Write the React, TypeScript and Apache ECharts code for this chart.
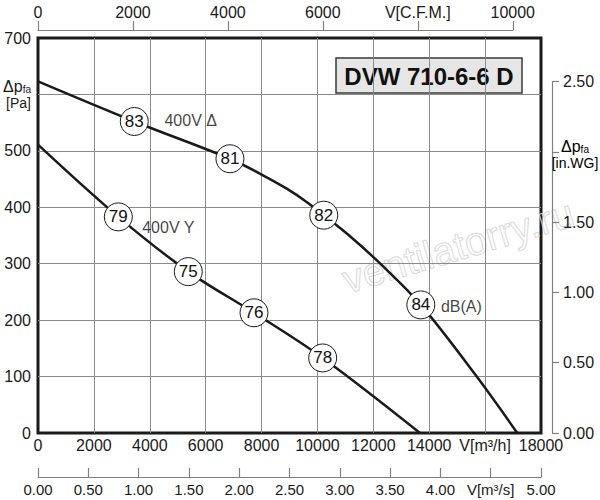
import React, { useEffect, useRef } from "react";
import * as echarts from "echarts";

// ---- data ----
const FLOW_MAX = 18000; // m3/h
const PRESSURE_MAX = 700; // Pa
const M3H_PER_CFM = 1.69901;
const PA_PER_INWG = 249.089;
const M3H_PER_M3S = 3600;

// 400V Δ curve [m3/h, Pa]
const deltaCurve: [number, number][] = [
  [0, 623], [3446, 552], [6869, 486], [8000, 458], [8900, 433], [9600, 410],
  [10226, 386], [11155, 349], [12250, 300], [13700, 227], [15700, 100], [17150, 0],
];
// 400V Y curve [m3/h, Pa]
const starCurve: [number, number][] = [
  [0, 511], [2874, 383], [5378, 286],
  [7730, 213], [10188, 133], [13670, 0],
];
// sound level markers [m3/h, Pa, dB(A)]
const deltaMarks: [number, number, number][] = [
  [3446, 552, 83], [6869, 486, 81], [10226, 386, 82], [13700, 227, 84],
];
const starMarks: [number, number, number][] = [
  [2874, 383, 79], [5378, 286, 75], [7730, 213, 76], [10188, 133, 78],
];
// text annotations [m3/h, Pa, text]
const annotations: [number, number, string][] = [
  [5464, 553, "400V Δ"], [4663, 365, "400V Y"], [15150, 224, "dB(A)"],
];
const title = "DVW 710-6-6 D";
const watermark = "ventilatorry.ru";

// ---- layout ----
const FONT = "'Liberation Sans', Arial, Helvetica, sans-serif";
const INK = "#1a1a1a";
const GRID_GREY = "#8a8a8a";
const AXIS_GREY = "#808080";
const P = { left: 38, top: 38, width: 503, height: 395 };
const pxPerPa = P.height / PRESSURE_MAX;
const inwgMax = 2.5;
const inwgHeight = inwgMax * PA_PER_INWG * pxPerPa;
const cfmMax = 10000;
const cfmWidth = ((cfmMax * M3H_PER_CFM) / FLOW_MAX) * P.width;
const m3sMax = FLOW_MAX / M3H_PER_M3S;

const subRich = {
  a: { fontSize: 16, fontFamily: FONT, color: INK, verticalAlign: "bottom", lineHeight: 18 },
  s: { fontSize: 10, fontFamily: FONT, color: INK, verticalAlign: "bottom", lineHeight: 14 },
  b: { fontSize: 14, fontFamily: FONT, color: INK, lineHeight: 18 },
};

export default function App() {
  const ref = useRef<HTMLDivElement>(null);
  useEffect(() => {
    if (!ref.current) return;
    const chart = echarts.init(ref.current, undefined, { renderer: "svg" });
    const labelBase = { fontSize: 16, fontFamily: FONT, color: INK };
    const curveSeries = (data: [number, number][]) => ({
      type: "line", xAxisIndex: 0, yAxisIndex: 0, data, smooth: 0.35,
      showSymbol: false, symbol: "none", z: 3,
      lineStyle: { color: INK, width: 2.5 },
    });
    chart.setOption({
      animation: false,
      backgroundColor: "#ffffff",
      textStyle: { fontFamily: FONT },
      grid: [
        {
          left: P.left, top: P.top, width: P.width, height: P.height,
          show: true, borderColor: INK, borderWidth: 3, backgroundColor: "transparent",
        },
        { left: 551, width: 1, top: P.top + P.height - inwgHeight, height: inwgHeight },
        { left: P.left, width: cfmWidth, top: 30, height: 1 },
        { left: P.left, width: P.width, top: 476, height: 1 },
      ],
      xAxis: [
        {
          gridIndex: 0, type: "value", min: 0, max: FLOW_MAX, interval: 2000,
          axisLine: { show: false }, axisTick: { show: false },
          splitLine: { show: true, showMinLine: false, showMaxLine: false, lineStyle: { color: GRID_GREY, width: 1 } },
          axisLabel: {
            ...labelBase, margin: 4,
            formatter: (v: number) => (v === 16000 ? "V[m³/h]" : String(v)),
          },
        },
        { gridIndex: 1, type: "value", show: false, min: 0, max: 1 },
        {
          gridIndex: 2, type: "value", position: "top", min: 0, max: cfmMax, interval: 2000,
          axisLine: { show: true, onZero: false, lineStyle: { color: AXIS_GREY, width: 1.2 } },
          axisTick: { show: true, length: 9, lineStyle: { color: AXIS_GREY, width: 1.2 } },
          splitLine: { show: false },
          axisLabel: {
            ...labelBase, margin: 10,
            formatter: (v: number) => (v === 8000 ? "V[C.F.M.]" : String(v)),
          },
        },
        {
          gridIndex: 3, type: "value", position: "bottom", min: 0, max: m3sMax, interval: 0.5,
          axisLine: { show: true, onZero: false, lineStyle: { color: AXIS_GREY, width: 1.2 } },
          axisTick: { show: true, inside: true, length: 9, lineStyle: { color: AXIS_GREY, width: 1.2 } },
          splitLine: { show: false },
          axisLabel: {
            ...labelBase, fontSize: 15, margin: 5,
            formatter: (v: number) => (Math.abs(v - 4.5) < 1e-9 ? "V[m³/s]" : v.toFixed(2)),
          },
        },
      ],
      yAxis: [
        {
          gridIndex: 0, type: "value", min: 0, max: PRESSURE_MAX, interval: 100,
          axisLine: { show: false }, axisTick: { show: false },
          splitLine: { show: true, showMinLine: false, showMaxLine: false, lineStyle: { color: GRID_GREY, width: 1 } },
          axisLabel: {
            ...labelBase, margin: 7,
            formatter: (v: number) => (v === 600 ? "{a|Δp}{s|fa}\n{b|[Pa]}" : String(v)),
            rich: subRich,
          },
        },
        {
          gridIndex: 1, type: "value", position: "right", min: 0, max: inwgMax, interval: 0.5,
          axisLine: { show: true, onZero: false, lineStyle: { color: AXIS_GREY, width: 1.2 } },
          axisTick: { show: true, length: 7, lineStyle: { color: AXIS_GREY, width: 1.2 } },
          splitLine: { show: false },
          axisLabel: {
            ...labelBase, margin: 11,
            formatter: (v: number) => (Math.abs(v - 2) < 1e-9 ? "" : v.toFixed(2)),
          },
        },
        { gridIndex: 2, type: "value", show: false, min: 0, max: 1 },
        { gridIndex: 3, type: "value", show: false, min: 0, max: 1 },
      ],
      graphic: [
        {
          type: "text", x: 458, y: 246, rotation: 0.29, z: 0, silent: true,
          style: {
            text: watermark, font: `40px ${FONT}`, align: "center", verticalAlign: "middle",
            fill: "rgba(255,255,255,0)", stroke: "#d9d9d9", lineWidth: 1,
          },
        },
        {
          type: "group", x: 336, y: 58, z: 100,
          children: [
            {
              type: "rect", shape: { x: 0, y: 0, width: 186, height: 35 },
              style: { fill: "#e6e6e6", stroke: "#3a3a3a", lineWidth: 1.5 },
            },
            {
              type: "text", x: 93, y: 18.5,
              style: {
                text: title, font: `bold 24px ${FONT}`, fill: "#111",
                align: "center", verticalAlign: "middle",
              },
            },
          ],
        },
        {
          type: "text", x: 575, y: 154, z: 100,
          style: {
            text: "{a|Δp}{s|fa}\n{b|[in.WG]}", align: "center", verticalAlign: "middle",
            rich: subRich,
          },
        },
      ],
      series: [
        curveSeries(deltaCurve),
        curveSeries(starCurve),
        ...[deltaMarks, starMarks].map((marks) => ({
          type: "scatter", xAxisIndex: 0, yAxisIndex: 0, data: marks, z: 5,
          symbol: "circle", symbolSize: 28,
          itemStyle: { color: "#ffffff", borderColor: INK, borderWidth: 1, opacity: 1 },
          label: {
            show: true, position: "inside", fontSize: 17, fontFamily: FONT, color: "#111",
            formatter: (p: any) => String(p.data[2]),
          },
        })),
        {
          type: "scatter", xAxisIndex: 0, yAxisIndex: 0, data: annotations, z: 6,
          symbol: "circle", symbolSize: 1, itemStyle: { color: "rgba(0,0,0,0)" },
          label: {
            show: true, position: "inside", fontSize: 16, fontFamily: FONT, color: "#111",
            formatter: (p: any) => String(p.data[2]),
          },
        },
      ],
    });
    return () => chart.dispose();
  }, []);
  return (
    <div
      ref={ref}
      style={{ position: "fixed", left: 0, top: 0, width: 600, height: 500, background: "#fff" }}
    />
  );
}
